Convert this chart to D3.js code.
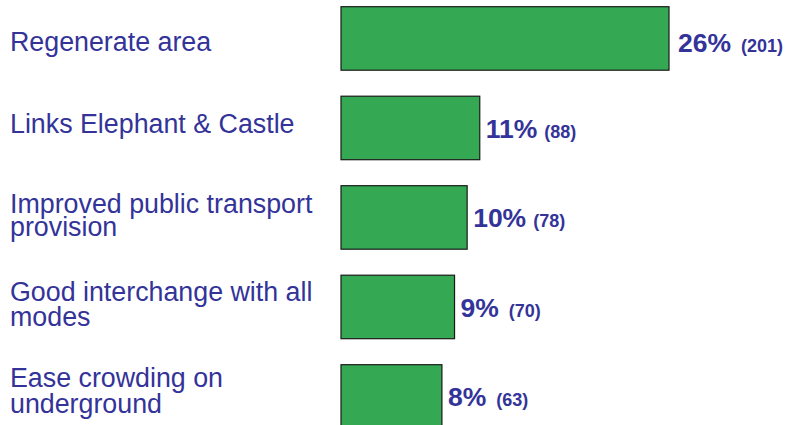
<!DOCTYPE html>
<html>
<head>
<meta charset="utf-8">
<script src="https://cdn.jsdelivr.net/npm/d3@7"></script>
<style>
  html, body { margin: 0; padding: 0; background: #ffffff; }
  svg { display: block; }
</style>
</head>
<body>
<svg id="chart" width="787" height="425"></svg>
<script>
// ---- data ----
const categoryLines = [
  ["Regenerate area"],
  ["Links Elephant & Castle"],
  ["Improved public transport", "provision"],
  ["Good interchange with all", "modes"],
  ["Ease crowding on", "underground"]
];
const categories = categoryLines.map(l => l.join(" "));
const percents = [26, 11, 10, 9, 8];
const counts = [201, 88, 78, 70, 63];

// ---- layout (not data) ----
const textColor = "#333399";
const barFill = "#35a853";
const labelNudge = [13, 5, -4, -6, -9];      // first-line baseline offset from bar centre
const lineGap = [0, 0, 23, 25.5, 25.5];
const valueNudge = [13.5, 10.5, 10, 10.5, 10];
const valueDx = [9, 6, 6, 6, 6];
const countGap = [10, 7, 7, 10, 10];

const svg = d3.select("#chart");

const x = d3.scaleLinear().domain([0, 26]).range([341, 669]);
const y = d3.scaleBand().domain(categories).range([6.7, 428.2]).paddingInner(0.2905).paddingOuter(0);

// bars
svg.append("g").selectAll("rect")
  .data(percents)
  .join("rect")
  .attr("x", x(0))
  .attr("y", (d, i) => y(categories[i]))
  .attr("width", d => x(d) - x(0))
  .attr("height", y.bandwidth())
  .attr("fill", barFill)
  .attr("stroke", "#1a1a1a")
  .attr("stroke-width", 1.2);

// category labels
const lab = svg.append("g")
  .attr("font-family", "Liberation Sans, Arial, Helvetica, sans-serif")
  .attr("font-size", 26.8)
  .attr("fill", textColor);
categoryLines.forEach((lines, i) => {
  const cy = y(categories[i]) + y.bandwidth() / 2 + labelNudge[i];
  const t = lab.append("text").attr("x", 10).attr("y", cy);
  lines.forEach((ln, j) => {
    t.append("tspan").attr("x", 10).attr("y", cy + j * lineGap[i]).text(ln);
  });
});

// value labels
const val = svg.append("g")
  .attr("font-family", "Liberation Sans, Arial, Helvetica, sans-serif")
  .attr("font-weight", "bold")
  .attr("fill", textColor);
percents.forEach((p, i) => {
  const t = val.append("text")
    .attr("x", x(p) + valueDx[i])
    .attr("y", y(categories[i]) + y.bandwidth() / 2 + valueNudge[i]);
  t.append("tspan").attr("font-size", 26.5).text(p + "%");
  t.append("tspan").attr("font-size", 18).attr("dx", countGap[i]).text("(" + counts[i] + ")");
});
</script>
</body>
</html>
